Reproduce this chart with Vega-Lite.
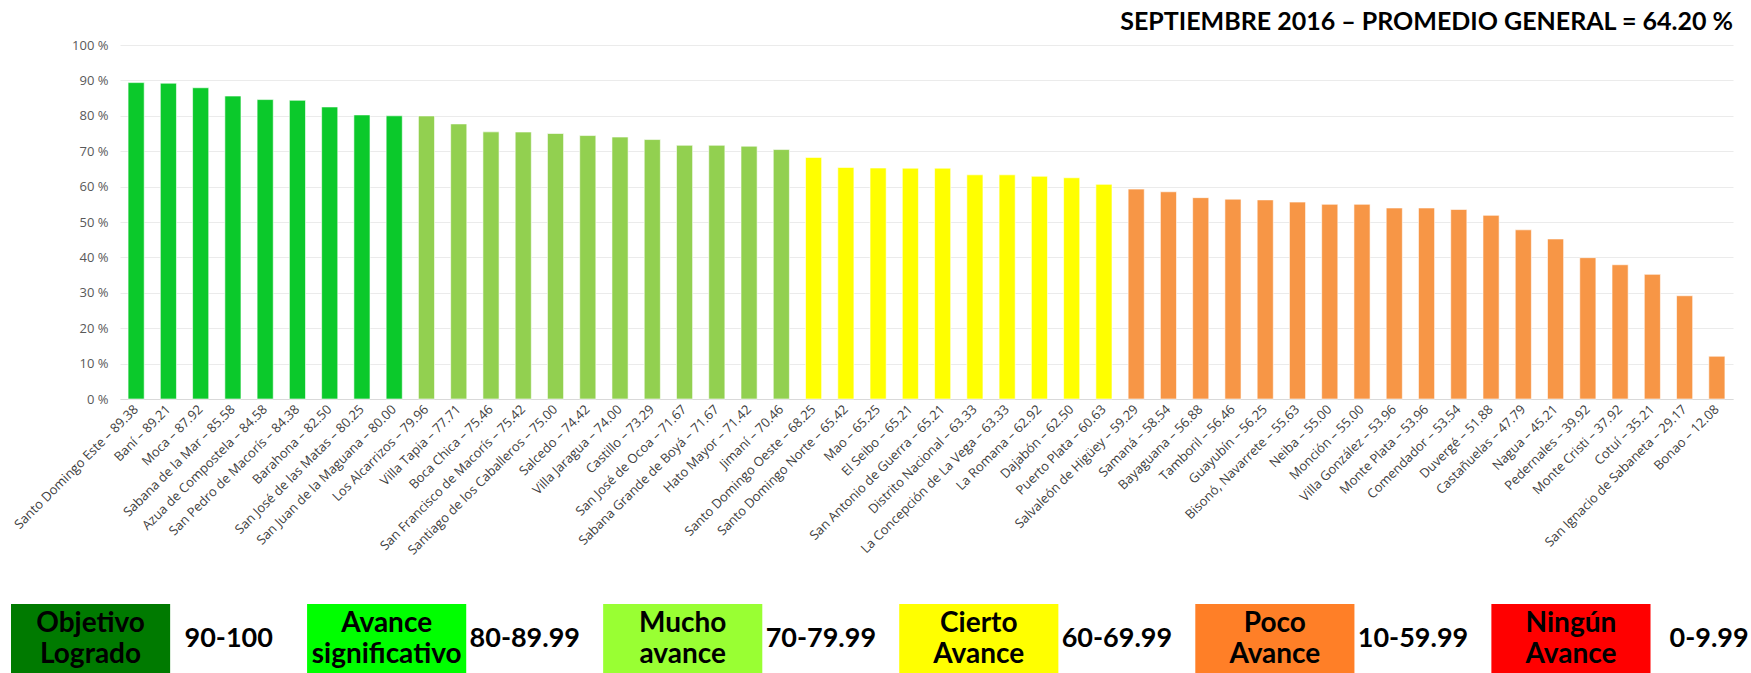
{
  "$schema": "https://vega.github.io/schema/vega-lite/v6.json",
  "padding": {"left": 11, "top": 10, "right": 0, "bottom": 0},
  "background": "white",
  "config": {"view": {"stroke": null}},
  "columns": 1,
  "spacing": 46,
  "resolve": {"scale": {"color": "independent", "x": "independent"}},
  "concat": [
    {
      "width": 1613,
      "height": 354,
      "title": {"text": "SEPTIEMBRE 2016 – PROMEDIO GENERAL = 64.20 %", "anchor": "end", "font": "Lato", "fontSize": 25, "fontWeight": "bold", "color": "#000000", "offset": 4},
      "data": {"values": [
        {"distrito": "Santo Domingo Este", "valor": 89.38, "nivel": "Avance significativo"},
        {"distrito": "Baní", "valor": 89.21, "nivel": "Avance significativo"},
        {"distrito": "Moca", "valor": 87.92, "nivel": "Avance significativo"},
        {"distrito": "Sabana de la Mar", "valor": 85.58, "nivel": "Avance significativo"},
        {"distrito": "Azua de Compostela", "valor": 84.58, "nivel": "Avance significativo"},
        {"distrito": "San Pedro de Macorís", "valor": 84.38, "nivel": "Avance significativo"},
        {"distrito": "Barahona", "valor": 82.50, "nivel": "Avance significativo"},
        {"distrito": "San José de las Matas", "valor": 80.25, "nivel": "Avance significativo"},
        {"distrito": "San Juan de la Maguana", "valor": 80.00, "nivel": "Avance significativo"},
        {"distrito": "Los Alcarrizos", "valor": 79.96, "nivel": "Mucho avance"},
        {"distrito": "Villa Tapia", "valor": 77.71, "nivel": "Mucho avance"},
        {"distrito": "Boca Chica", "valor": 75.46, "nivel": "Mucho avance"},
        {"distrito": "San Francisco de Macorís", "valor": 75.42, "nivel": "Mucho avance"},
        {"distrito": "Santiago de los Caballeros", "valor": 75.00, "nivel": "Mucho avance"},
        {"distrito": "Salcedo", "valor": 74.42, "nivel": "Mucho avance"},
        {"distrito": "Villa Jaragua", "valor": 74.00, "nivel": "Mucho avance"},
        {"distrito": "Castillo", "valor": 73.29, "nivel": "Mucho avance"},
        {"distrito": "San José de Ocoa", "valor": 71.67, "nivel": "Mucho avance"},
        {"distrito": "Sabana Grande de Boyá", "valor": 71.67, "nivel": "Mucho avance"},
        {"distrito": "Hato Mayor", "valor": 71.42, "nivel": "Mucho avance"},
        {"distrito": "Jimaní", "valor": 70.46, "nivel": "Mucho avance"},
        {"distrito": "Santo Domingo Oeste", "valor": 68.25, "nivel": "Cierto Avance"},
        {"distrito": "Santo Domingo Norte", "valor": 65.42, "nivel": "Cierto Avance"},
        {"distrito": "Mao", "valor": 65.25, "nivel": "Cierto Avance"},
        {"distrito": "El Seibo", "valor": 65.21, "nivel": "Cierto Avance"},
        {"distrito": "San Antonio de Guerra", "valor": 65.21, "nivel": "Cierto Avance"},
        {"distrito": "Distrito Nacional", "valor": 63.33, "nivel": "Cierto Avance"},
        {"distrito": "La Concepción de La Vega", "valor": 63.33, "nivel": "Cierto Avance"},
        {"distrito": "La Romana", "valor": 62.92, "nivel": "Cierto Avance"},
        {"distrito": "Dajabón", "valor": 62.50, "nivel": "Cierto Avance"},
        {"distrito": "Puerto Plata", "valor": 60.63, "nivel": "Cierto Avance"},
        {"distrito": "Salvaleón de Higüey", "valor": 59.29, "nivel": "Poco Avance"},
        {"distrito": "Samaná", "valor": 58.54, "nivel": "Poco Avance"},
        {"distrito": "Bayaguana", "valor": 56.88, "nivel": "Poco Avance"},
        {"distrito": "Tamboril", "valor": 56.46, "nivel": "Poco Avance"},
        {"distrito": "Guayubín", "valor": 56.25, "nivel": "Poco Avance"},
        {"distrito": "Bisonó, Navarrete", "valor": 55.63, "nivel": "Poco Avance"},
        {"distrito": "Neiba", "valor": 55.00, "nivel": "Poco Avance"},
        {"distrito": "Monción", "valor": 55.00, "nivel": "Poco Avance"},
        {"distrito": "Villa González", "valor": 53.96, "nivel": "Poco Avance"},
        {"distrito": "Monte Plata", "valor": 53.96, "nivel": "Poco Avance"},
        {"distrito": "Comendador", "valor": 53.54, "nivel": "Poco Avance"},
        {"distrito": "Duvergé", "valor": 51.88, "nivel": "Poco Avance"},
        {"distrito": "Castañuelas", "valor": 47.79, "nivel": "Poco Avance"},
        {"distrito": "Nagua", "valor": 45.21, "nivel": "Poco Avance"},
        {"distrito": "Pedernales", "valor": 39.92, "nivel": "Poco Avance"},
        {"distrito": "Monte Cristi", "valor": 37.92, "nivel": "Poco Avance"},
        {"distrito": "Cotuí", "valor": 35.21, "nivel": "Poco Avance"},
        {"distrito": "San Ignacio de Sabaneta", "valor": 29.17, "nivel": "Poco Avance"},
        {"distrito": "Bonao", "valor": 12.08, "nivel": "Poco Avance"}
      ]},
      "transform": [{"calculate": "datum.distrito + ' – ' + format(datum.valor, '.2f')", "as": "etiqueta"}],
      "mark": {"type": "bar", "stroke": "#ffffff", "strokeOpacity": 0.6, "strokeWidth": 1},
      "encoding": {
        "x": {
          "field": "etiqueta", "type": "nominal", "sort": null, "title": null,
          "scale": {"paddingInner": 0.5, "paddingOuter": 0.25},
          "axis": {"labelAngle": -45, "labelAlign": "right", "labelBaseline": "middle", "labelFont": "Open Sans", "labelFontSize": 13, "labelColor": "#404040", "ticks": false, "labelPadding": 8, "labelOverlap": false, "labelLimit": 400, "domainColor": "#D9D9D9", "grid": false}
        },
        "y": {
          "field": "valor", "type": "quantitative", "title": null,
          "scale": {"domain": [0, 100]},
          "axis": {"values": [0, 10, 20, 30, 40, 50, 60, 70, 80, 90, 100], "labelExpr": "datum.value + ' %'", "labelFont": "Open Sans", "labelFontSize": 13, "labelColor": "#595959", "ticks": false, "domain": false, "labelPadding": 12, "gridColor": "#EBEBEB", "gridWidth": 1}
        },
        "color": {
          "field": "nivel", "type": "nominal", "legend": null,
          "scale": {"domain": ["Objetivo Logrado", "Avance significativo", "Mucho avance", "Cierto Avance", "Poco Avance", "Ningún Avance"], "range": ["#007A00", "#0BC92B", "#92D050", "#FFFF00", "#F79646", "#FF0000"]}
        }
      }
    },
    {
      "width": 1613,
      "height": 69,
      "data": {"values": [
        {"categoria": "Objetivo\nLogrado", "rango": "90-100"},
        {"categoria": "Avance\nsignificativo", "rango": "80-89.99"},
        {"categoria": "Mucho\navance", "rango": "70-79.99"},
        {"categoria": "Cierto\nAvance", "rango": "60-69.99"},
        {"categoria": "Poco\nAvance", "rango": "10-59.99"},
        {"categoria": "Ningún\nAvance", "rango": "0-9.99"}
      ]},
      "encoding": {
        "x": {"field": "categoria", "type": "nominal", "sort": null, "axis": null, "scale": {"paddingInner": 0.14, "paddingOuter": 0, "range": [-109, 1626]}}
      },
      "layer": [
        {
          "mark": {"type": "rect"},
          "encoding": {
            "x": {"field": "categoria", "type": "nominal", "sort": null, "bandPosition": 0},
            "x2": {"field": "categoria", "bandPosition": 0.625},
            "color": {"field": "categoria", "type": "nominal", "legend": null, "sort": null,
              "scale": {"range": ["#007A00", "#00FF00", "#99FF33", "#FFFF00", "#FF7F27", "#FF0000"]}}
          }
        },
        {
          "mark": {"type": "text", "font": "Lato", "fontWeight": "bold", "fontSize": 28, "lineBreak": "\n", "lineHeight": 31, "color": "#000000", "align": "center", "baseline": "middle", "dy": -15},
          "encoding": {
            "x": {"field": "categoria", "type": "nominal", "sort": null, "bandPosition": 0.3125},
            "text": {"field": "categoria"}
          }
        },
        {
          "mark": {"type": "text", "font": "Lato", "fontWeight": "bold", "fontSize": 27, "color": "#000000", "align": "center", "baseline": "middle"},
          "encoding": {
            "x": {"field": "categoria", "type": "nominal", "sort": null, "bandPosition": 0.855},
            "text": {"field": "rango"}
          }
        }
      ]
    }
  ]
}
